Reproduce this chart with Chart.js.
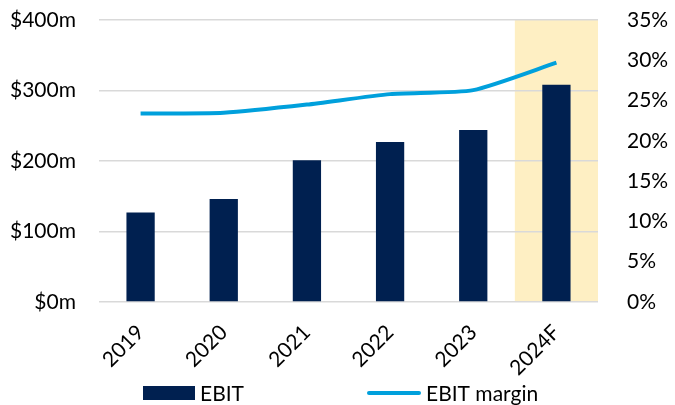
<!DOCTYPE html>
<html>
<head>
<meta charset="utf-8">
<script src="https://cdn.jsdelivr.net/npm/chart.js@4"></script>
<style>
  html, body { margin: 0; padding: 0; background: #fff; }
  #wrap { width: 675px; height: 405px; }
</style>
</head>
<body>
<div id="wrap"><canvas id="myChart" width="675" height="405"></canvas></div>
<script>
var years = ['2019', '2020', '2021', '2022', '2023', '2024F'];
var ebit = [127, 146, 201, 227, 244, 308];
var margin = [23.4, 23.5, 24.5, 25.8, 26.3, 29.7];
var leftTicks = [0, 100, 200, 300, 400];
var rightTicks = [0, 5, 10, 15, 20, 25, 30, 35];
var forecastIndex = 5;

var navy = '#002050';
var blue = '#00A0DC';
var font = 'Lato, "Open Sans", sans-serif';
var fontSize = 21;

// pale band behind the forecast year
const bandPlugin = {
  id: 'band',
  beforeDraw(chart) {
    const x = chart.scales.x;
    const area = chart.chartArea;
    const w = x.width / years.length;
    const c = x.getPixelForValue(forecastIndex);
    chart.ctx.save();
    chart.ctx.fillStyle = '#FEEFC3';
    chart.ctx.fillRect(c - w / 2, area.top, w, area.bottom - area.top);
    chart.ctx.restore();
  }
};

// legend at the bottom, box for bars and a line for the margin
const legendPlugin = {
  id: 'bottomLegend',
  afterDraw(chart) {
    const ctx = chart.ctx;
    const bars = chart.data.datasets.find(d => d.type !== 'line');
    const line = chart.data.datasets.find(d => d.type === 'line');
    const y = 393;
    ctx.save();
    ctx.font = fontSize + 'px ' + font;
    ctx.textBaseline = 'middle';
    ctx.fillStyle = navy;
    ctx.fillRect(143, y - 7, 52, 14);
    ctx.fillStyle = '#000';
    ctx.fillText(bars.label, 200, y + 1);
    ctx.strokeStyle = blue;
    ctx.lineWidth = 4;
    ctx.lineCap = 'round';
    ctx.beginPath();
    ctx.moveTo(369, y);
    ctx.lineTo(419, y);
    ctx.stroke();
    ctx.fillStyle = '#000';
    ctx.fillText(line.label, 426, y + 1);
    ctx.restore();
  }
};

function noVerticalPadding(scale) {
  scale.paddingTop = 0;
  scale.paddingBottom = 0;
}

new Chart(document.getElementById('myChart'), {
  type: 'bar',
  data: {
    labels: years,
    datasets: [{
      type: 'line',
      label: 'EBIT margin',
      data: margin,
      yAxisID: 'y1',
      borderColor: blue,
      borderWidth: 4,
      pointRadius: 0,
      tension: 0.2,
      order: 0
    }, {
      label: 'EBIT',
      data: ebit,
      yAxisID: 'y',
      backgroundColor: navy,
      barPercentage: 0.34,
      categoryPercentage: 1,
      order: 1
    }]
  },
  options: {
    responsive: false,
    animation: false,
    layout: { padding: { top: 20, bottom: 0, left: 0, right: 0 } },
    plugins: {
      legend: { display: false },
      tooltip: { enabled: false }
    },
    scales: {
      x: {
        grid: { display: false },
        border: { display: false },
        ticks: {
          color: '#000',
          font: { family: font, size: fontSize },
          minRotation: 45,
          maxRotation: 45,
          padding: 10
        },
        afterFit(scale) { scale.height = 103; }
      },
      y: {
        position: 'left',
        min: 0,
        max: 400,
        afterBuildTicks(scale) { scale.ticks = leftTicks.map(v => ({ value: v })); },
        grid: { color: '#D9D9D9', lineWidth: 1.5, drawTicks: false },
        border: { display: false },
        ticks: {
          color: '#000',
          font: { family: font, size: fontSize },
          padding: 23,
          callback: v => '$' + v + 'm'
        },
        afterFit(scale) { scale.width = 99; noVerticalPadding(scale); }
      },
      y1: {
        position: 'right',
        min: 0,
        max: 35,
        afterBuildTicks(scale) { scale.ticks = rightTicks.map(v => ({ value: v })); },
        grid: { display: false },
        border: { display: false },
        ticks: {
          color: '#000',
          font: { family: font, size: fontSize },
          padding: 21,
          callback: v => v + '%'
        },
        afterFit(scale) { scale.width = 77; noVerticalPadding(scale); }
      }
    }
  },
  plugins: [bandPlugin, legendPlugin]
});
</script>
</body>
</html>
